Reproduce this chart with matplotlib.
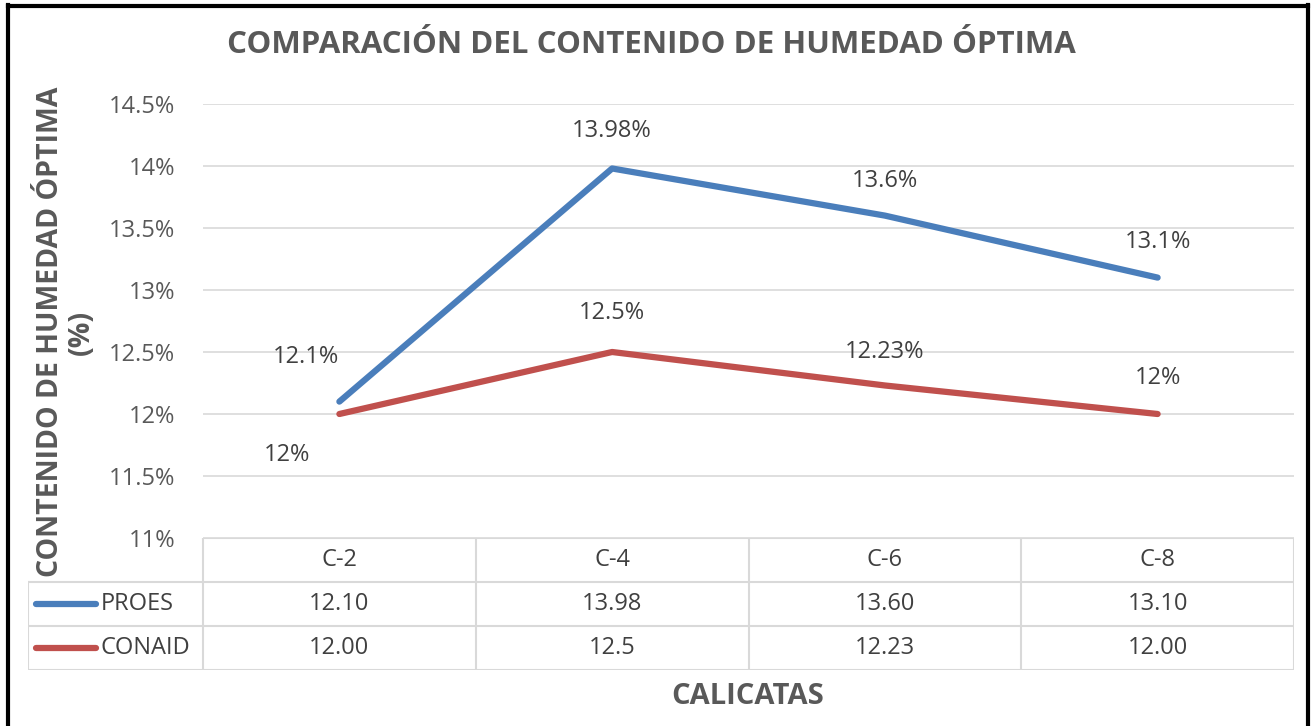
import matplotlib.pyplot as plt
from matplotlib.lines import Line2D

plt.rcParams['font.family'] = ['Open Sans', 'DejaVu Sans']

categories = ['C-2', 'C-4', 'C-6', 'C-8']
proes = [12.10, 13.98, 13.60, 13.10]
conaid = [12.00, 12.50, 12.23, 12.00]
proes_table = ['12.10', '13.98', '13.60', '13.10']
conaid_table = ['12.00', '12.5', '12.23', '12.00']
yticks = [11, 11.5, 12, 12.5, 13, 13.5, 14, 14.5]

blue = '#4A7EBB'
red = '#C0504D'
grid_c = '#D9D9D9'
txt = '#595959'
tbl_txt = '#404040'
fs = 17

W, H = 1312, 726
fig = plt.figure(figsize=(W / 100, H / 100), dpi=100)


def px(x0, y0, x1, y1):
    # figure rect from pixel box (top-left origin)
    return [x0 / W, 1 - y1 / H, (x1 - x0) / W, (y1 - y0) / H]


ax = fig.add_axes(px(203, 104, 1294, 538))
x = list(range(len(categories)))
ax.plot(x, proes, color=blue, lw=4.5, solid_capstyle='round', zorder=3)
ax.plot(x, conaid, color=red, lw=4.5, solid_capstyle='round', zorder=3)
ax.set_xlim(-0.5, len(categories) - 0.5)
ax.set_ylim(11, 14.5)
ax.set_yticks(yticks)
ax.set_yticklabels([f'{v:g}%' for v in yticks], color=txt, fontsize=fs)
ax.tick_params(axis='y', length=0, pad=20)
ax.set_xticks([])
for s in ax.spines.values():
    s.set_visible(False)
ax.grid(axis='y', color=grid_c, lw=1.2)
ax.set_axisbelow(True)

# data labels (offsets in pixels)
p_off = [(-33, 45), (0, 37), (0, 35), (0, 36)]
c_off = [(-52, -41), (0, 39), (0, 33), (0, 36)]
for i, v in enumerate(proes):
    ax.annotate(f'{v:g}%', (i, v), xytext=p_off[i], textcoords='offset pixels',
                ha='center', va='center', fontsize=fs, color=tbl_txt)
for i, v in enumerate(conaid):
    ax.annotate(f'{v:g}%', (i, v), xytext=c_off[i], textcoords='offset pixels',
                ha='center', va='center', fontsize=fs, color=tbl_txt)

# data table
tx = fig.add_axes(px(28, 538, 1294, 670))
left = -0.5 - 175 / 272.75
tx.set_xlim(left, len(categories) - 0.5)
tx.set_ylim(3, 0)
tx.axis('off')
n = len(categories)
lc = dict(color=grid_c, lw=1.5)
tx.plot([-0.5, n - 0.5], [0, 0], **lc)
for r in [1, 2, 3]:
    tx.plot([left, n - 0.5], [r, r], **lc)
for c in range(n + 1):
    tx.plot([c - 0.5, c - 0.5], [0, 3], **lc)
tx.plot([left, left], [1, 3], **lc)
for i in range(n):
    tx.text(i, 0.5, categories[i], ha='center', va='center', fontsize=fs, color=tbl_txt)
    tx.text(i, 1.5, proes_table[i], ha='center', va='center', fontsize=fs, color=tbl_txt)
    tx.text(i, 2.5, conaid_table[i], ha='center', va='center', fontsize=fs, color=tbl_txt)
for r, (name, col) in enumerate([('PROES', blue), ('CONAID', red)]):
    tx.plot([left + 0.03, left + 0.25], [1.5 + r, 1.5 + r], color=col, lw=4.5,
            solid_capstyle='round')
    tx.text(left + 0.265, 1.5 + r, name, ha='left', va='center', fontsize=fs, color=tbl_txt)

fig.text(651 / W, 1 - 45 / H, 'COMPARACIÓN DEL CONTENIDO DE HUMEDAD ÓPTIMA',
         ha='center', va='center', fontsize=22.5, fontweight='bold', color=txt)
fig.text(66 / W, 1 - 332 / H, 'CONTENIDO DE HUMEDAD ÓPTIMA\n(%)', rotation=90,
         ha='center', va='center', fontsize=20.5, fontweight='bold', color=txt,
         linespacing=1.05, multialignment='center')
fig.text(748 / W, 1 - 697 / H, 'CALICATAS', ha='center', va='center',
         fontsize=21, fontweight='bold', color=txt)

# outer frame (left, top, right)
for xs, ys in [([8, 8], [5, H]), ([8, 1308], [5.5, 5.5]), ([1308, 1308], [5, H])]:
    fig.add_artist(Line2D([v / W for v in xs], [1 - v / H for v in ys],
                          color='black', lw=3))

fig.savefig('out.png', dpi=100)
